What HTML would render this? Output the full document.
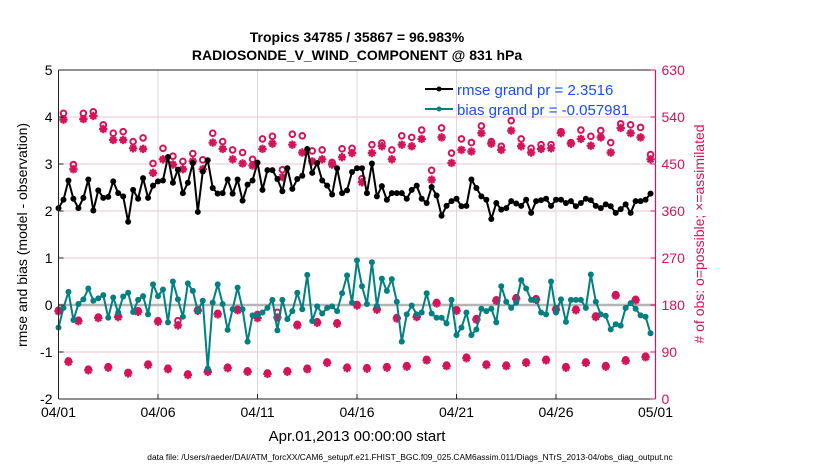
<!DOCTYPE html>
<html><head><meta charset="utf-8">
<style>
html,body{margin:0;padding:0;background:#fff;}
svg{display:block;font-family:"Liberation Sans",sans-serif;}
</style></head>
<body>
<svg id="chart" width="830" height="470" viewBox="0 0 830 470">
  <text x="357" y="42" text-anchor="middle" font-size="14" font-weight="bold">Tropics 34785 / 35867 = 96.983%</text>
  <text x="357" y="60" text-anchor="middle" font-size="14" font-weight="bold">RADIOSONDE_V_WIND_COMPONENT @ 831 hPa</text>
  <g id="grid"></g>
  <g id="series"></g>
  <g id="axes"></g>
  <text transform="translate(27,235) rotate(-90)" text-anchor="middle" font-size="14">rmse and bias (model - observation)</text>
  <text transform="translate(704,234) rotate(-90)" text-anchor="middle" font-size="14" fill="#d4145a"># of obs: o=possible; ×=assimilated</text>
  <text x="357" y="441" text-anchor="middle" font-size="15">Apr.01,2013 00:00:00 start</text>
  <text x="410" y="460" text-anchor="middle" font-size="8.4">data file: /Users/raeder/DAI/ATM_forcXX/CAM6_setup/f.e21.FHIST_BGC.f09_025.CAM6assim.011/Diags_NTrS_2013-04/obs_diag_output.nc</text>
  <g>
    <line x1="425" y1="89" x2="453" y2="89" stroke="#000" stroke-width="2"/>
    <circle cx="439" cy="89" r="2.5" fill="#000"/>
    <text x="457" y="95" font-size="15" fill="#1a4cff">rmse grand pr = 2.3516</text>
    <line x1="425" y1="109" x2="453" y2="109" stroke="#008080" stroke-width="2"/>
    <circle cx="439" cy="109" r="2.5" fill="#008080"/>
    <text x="457" y="115" font-size="15" fill="#1a4cff">bias grand pr = -0.057981</text>
  </g>
</svg>
<script>
const xTickLabels = ["04/01","04/06","04/11","04/16","04/21","04/26","05/01"];
const yLeftTicks = [-2,-1,0,1,2,3,4,5];
const yRightTicks = [0,90,180,270,360,450,540,630];
const rmse = [2.06,2.24,2.65,2.26,2.06,2.28,2.67,2.01,2.44,2.28,2.30,2.63,2.38,2.31,1.77,2.45,2.26,2.70,2.28,2.54,2.63,2.65,3.15,2.60,2.88,2.38,2.60,3.02,1.98,2.84,3.08,2.49,2.37,2.38,2.67,2.37,2.67,2.22,2.56,2.65,3.03,2.45,2.87,2.87,2.68,2.42,2.91,2.47,2.68,2.75,3.32,2.81,3.02,2.65,2.54,2.35,2.91,2.38,2.44,2.83,2.91,2.91,2.38,3.01,2.31,2.53,2.24,2.38,2.38,2.38,2.26,2.45,2.54,2.26,2.17,2.51,2.33,1.90,2.11,2.21,2.26,2.10,2.11,2.67,2.49,2.31,2.24,1.83,2.17,2.03,2.06,2.21,2.16,2.11,2.24,1.96,2.21,2.23,2.26,2.11,2.24,2.24,2.17,2.21,2.10,2.17,2.26,2.23,2.11,2.06,2.14,2.10,1.96,2.04,2.14,1.96,2.21,2.21,2.24,2.37];
const bias = [-0.48,-0.06,0.28,-0.32,0.02,0.12,0.35,0.09,0.14,0.21,-0.27,0.16,-0.16,0.18,0.26,-0.15,0.11,0.19,-0.20,0.44,0.19,0.33,-0.37,0.50,0.12,-0.25,0.46,0.30,-0.13,0.09,-1.35,0.05,0.44,0.02,-0.53,-0.09,0.37,-0.09,-0.78,-0.22,-0.22,-0.16,-0.06,0.11,-0.54,0.11,-0.30,-0.13,0.26,-0.09,0.64,-0.34,-0.03,-0.18,-0.06,-0.03,-0.13,0.25,0.63,0.05,0.95,0.40,0.02,0.91,-0.02,0.56,0.30,0.55,0.07,-0.78,-0.20,-0.01,-0.20,-0.16,0.25,-0.18,-0.27,-0.27,-0.39,0.11,-0.64,-0.48,-0.16,-0.64,-0.52,-0.08,-0.13,-0.08,-0.37,0.40,0.07,-0.06,0.05,0.53,0.35,0.11,0.11,-0.16,-0.20,0.50,-0.16,0.12,-0.36,0.11,0.11,0.11,-0.06,0.65,0.07,-0.20,-0.23,-0.52,-0.41,-0.44,-0.06,0.04,-0.08,-0.22,-0.25,-0.60];
const obsPossible = [170,547,73,449,151,547,57,550,157,525,62,509,159,512,51,493,169,500,67,451,150,480,59,465,150,455,48,470,171,458,54,509,164,493,61,477,172,472,54,459,162,498,50,503,166,439,54,507,143,504,59,475,148,477,71,453,146,479,61,480,181,422,60,487,173,490,62,477,156,504,64,501,159,515,76,438,185,519,65,471,171,498,80,491,154,523,67,493,190,484,65,533,194,498,71,480,192,487,76,487,173,512,62,491,172,515,71,503,159,514,64,491,200,527,75,525,191,520,82,468];
const obsAssimilated = [168,535,71,440,149,536,55,542,155,517,60,496,157,496,49,480,167,479,65,433,148,459,57,449,141,440,46,455,169,440,52,491,162,479,59,459,170,451,52,447,155,479,48,489,156,425,52,487,141,472,57,455,146,459,69,449,144,463,59,471,179,415,58,471,171,484,60,459,154,487,62,484,157,498,74,420,183,501,63,452,169,477,78,474,152,509,65,489,188,477,63,514,192,484,69,472,190,479,74,480,171,509,60,489,170,498,69,485,157,501,62,472,198,519,73,509,189,501,80,459];

const NS="http://www.w3.org/2000/svg";
const L=58.5,R=655.5,T=70,B=399;
const nSteps=120;
const xs=i=>L+i*(R-L)/nSteps;
const yL=v=>B-(v+2)*(B-T)/7;
const yR=v=>B-v*(B-T)/630;
function mk(tag,attrs,parent){const e=document.createElementNS(NS,tag);for(const k in attrs)e.setAttribute(k,attrs[k]);parent.appendChild(e);return e;}
const grid=document.getElementById('grid'),series=document.getElementById('series'),axes=document.getElementById('axes');

yRightTicks.forEach(v=>{
  const g=mk('line',{x1:L,x2:R,y1:yR(v),y2:yR(v),stroke:'#f2c6d4','stroke-width':1},grid);
  
  
});
xTickLabels.forEach((t,k)=>{
  const x=L+k*(R-L)/6;
  const g=mk('line',{x1:x,x2:x,y1:T,y2:B,stroke:'#d9d9d9','stroke-width':1},grid);
  
  
  const tk=mk('line',{x1:x,x2:x,y1:B,y2:B-5,stroke:'#222','stroke-width':1},axes);
  
  
  const tx=mk('text',{x:x,y:B+18,'text-anchor':'middle','font-size':14},axes);
  tx.textContent=t;
  
  
});
const zl=mk('line',{x1:L,x2:R,y1:yL(0),y2:yL(0),stroke:'#b5b5b5','stroke-width':2.5},grid);



function drawLine(vals,color,name){
  const pts=vals.map((v,i)=>xs(i).toFixed(2)+','+yL(v).toFixed(2)).join(' ');
  const pl=mk('polyline',{points:pts,fill:'none',stroke:color,'stroke-width':2,'stroke-linejoin':'round'},series);
  
  
  vals.forEach((v,i)=>{
    const c=mk('circle',{cx:xs(i),cy:yL(v),r:3,fill:color},series);
    
    
  });
}
const RED='#d4145a';
function drawObs(){
  obsPossible.forEach((v,i)=>{
    if(v==null)return;
    const c=mk('circle',{cx:xs(i),cy:yR(v),r:2.8,fill:'none',stroke:RED,'stroke-width':2},series);
    
    
  });
  obsAssimilated.forEach((v,i)=>{
    if(v==null)return;
    const x=xs(i),y=yR(v),s=4.2;
    const d=`M${x-s},${y}H${x+s}M${x},${y-s}V${y+s}M${x-s*0.7},${y-s*0.7}L${x+s*0.7},${y+s*0.7}M${x-s*0.7},${y+s*0.7}L${x+s*0.7},${y-s*0.7}`;
    const p=mk('path',{d:d,stroke:RED,'stroke-width':2.2,fill:'none'},series);
    
    
  });
}
drawObs();
drawLine(rmse,'#000','rmse');
drawLine(bias,'#008080','bias');

const la=mk('line',{x1:L,x2:L,y1:T,y2:B,stroke:'#222','stroke-width':1},axes);


const ba=mk('line',{x1:L,x2:R,y1:B,y2:B,stroke:'#222','stroke-width':1},axes);


const ta=mk('line',{x1:L,x2:R,y1:T,y2:T,stroke:'#222','stroke-width':1},axes);


const ra=mk('line',{x1:R,x2:R,y1:T,y2:B,stroke:RED,'stroke-width':1.2},axes);


yLeftTicks.forEach(v=>{
  const tk=mk('line',{x1:L,x2:L+5,y1:yL(v),y2:yL(v),stroke:'#222'},axes);
  
  
  const tx=mk('text',{x:L-6,y:yL(v)+5,'text-anchor':'end','font-size':14},axes);
  tx.textContent=v;
  
  
});
yRightTicks.forEach(v=>{
  const tk=mk('line',{x1:R,x2:R-5,y1:yR(v),y2:yR(v),stroke:RED},axes);
  
  
  const tx=mk('text',{x:R+6,y:yR(v)+5,'font-size':14,fill:RED},axes);
  tx.textContent=v;
  
  
});
</script>
</body></html>
